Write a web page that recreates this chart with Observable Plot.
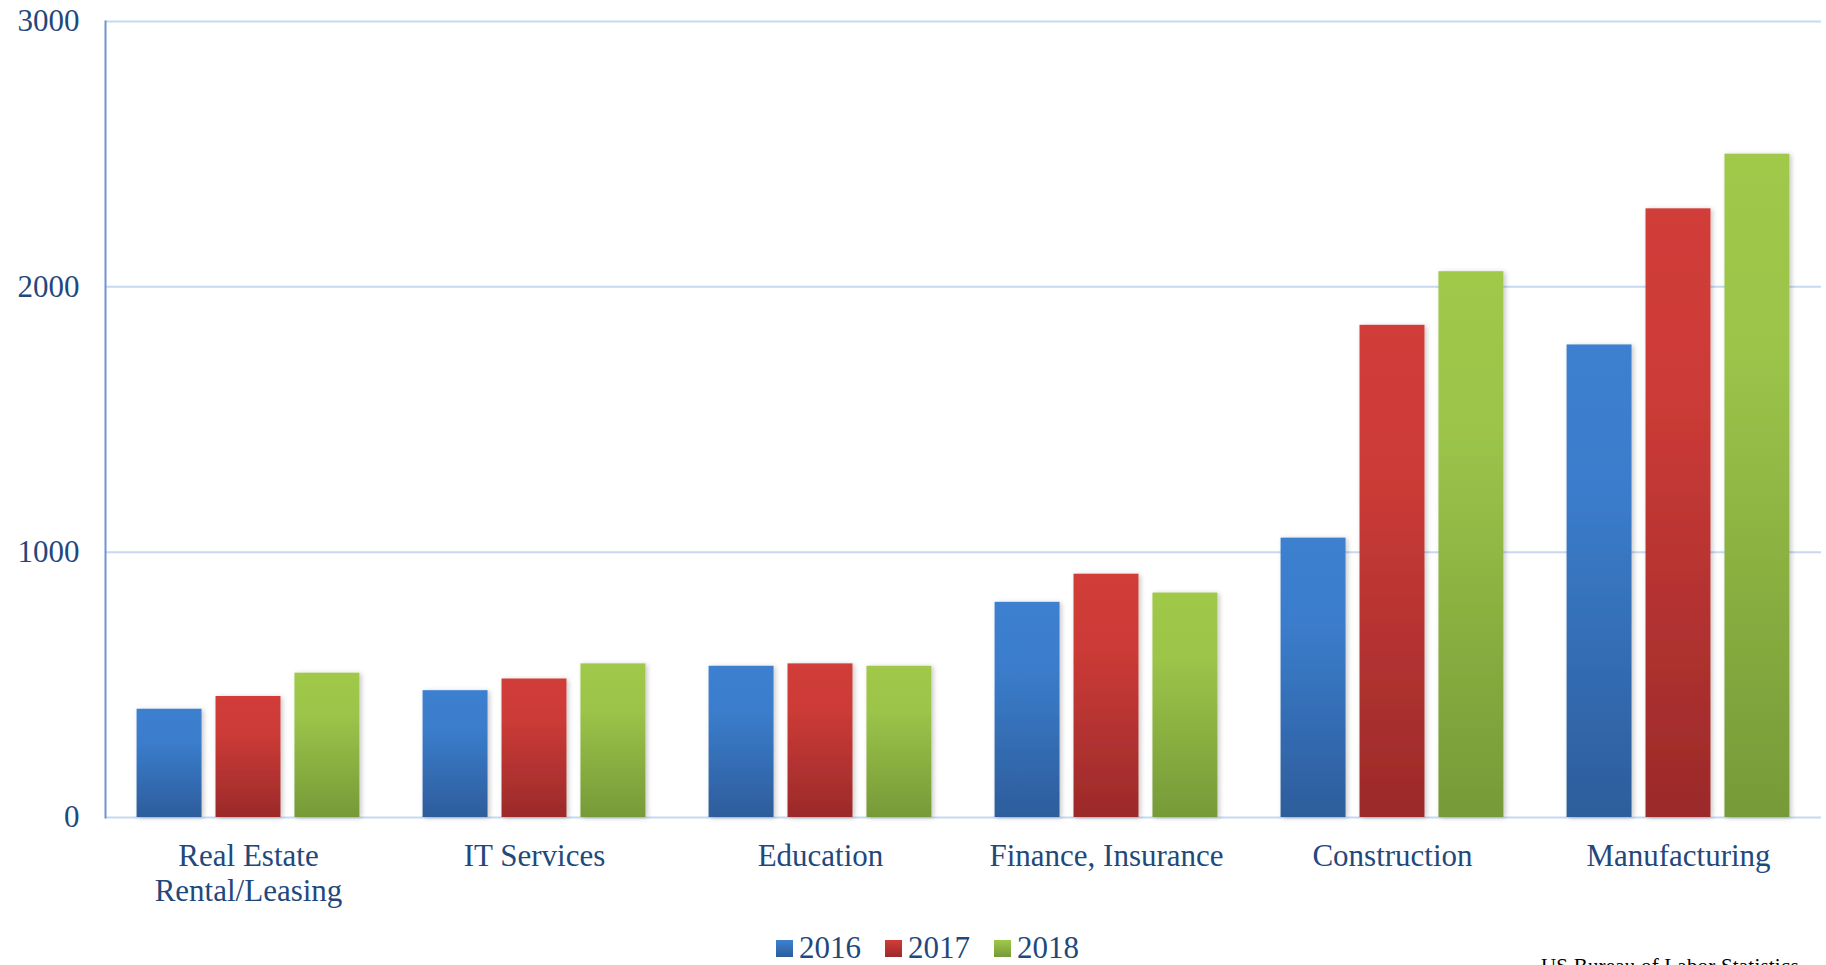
<!DOCTYPE html>
<html>
<head>
<meta charset="utf-8">
<script src="https://cdn.jsdelivr.net/npm/d3@7"></script>
<script src="https://cdn.jsdelivr.net/npm/@observablehq/plot@0.6"></script>
<style>
  html, body { margin: 0; padding: 0; overflow: hidden; background: #fff; }
  #wrap { position: relative; width: 1826px; height: 965px; }
  #legend { display: flex; justify-content: center; align-items: center; padding-left: 29px;
    font-family: "Liberation Serif", serif; font-size: 31px; line-height: 36px; color: #1f497d; }
  #legend .item { display: flex; align-items: center; margin: 0 12px; }
  #legend .sw { width: 17px; height: 17px; margin-right: 6px; }
  #source { position: absolute; left: 1541px; top: 954px; font-family: "Liberation Serif", serif;
    font-size: 21px; line-height: 24px; color: #000; white-space: nowrap; letter-spacing: 0.2px; }
</style>
</head>
<body>
<div id="wrap">
  <div id="chart"></div>
  <div id="legend"></div>
  <div id="source">US Bureau of Labor Statistics</div>
</div>
<script>
const categories = ["Real Estate\nRental/Leasing", "IT Services", "Education", "Finance, Insurance", "Construction", "Manufacturing"];
const years = ["2016", "2017", "2018"];
const values2016 = [408, 478, 570, 811, 1053, 1781];
const values2017 = [456, 522, 579, 917, 1855, 2294];
const values2018 = [544, 579, 570, 846, 2057, 2500];
const yTicks = [0, 1000, 2000, 3000];

const seriesValues = [values2016, values2017, values2018];
const data = [];
categories.forEach((c, i) => {
  years.forEach((y, j) => data.push({category: c, year: y, value: seriesValues[j][i]}));
});

const gradients = {
  "2016": ["#3c80d0", "#3b7dcc", "#2d5d9c"],
  "2017": ["#d13c38", "#cc3b37", "#9b2a2a"],
  "2018": ["#a0c84a", "#9bc449", "#769a38"]
};

const chart = Plot.plot({
  width: 1826,
  height: 930,
  marginTop: 21,
  marginBottom: 113,
  marginLeft: 103,
  marginRight: 4,
  style: {fontFamily: "'Liberation Serif', serif", fontSize: "31px", color: "#1f497d", background: "white"},
  fx: {domain: categories, padding: 0, label: null},
  x: {domain: years, paddingInner: 0.177, paddingOuter: 0.4, round: false, axis: null},
  y: {domain: [0, 3000], axis: null, label: null},
  color: {domain: years, range: years.map(y => `url(#grad-${y})`)},
  marks: [
    Plot.gridY(yTicks.filter(d => d > 0), {stroke: "#c6d9f1", strokeWidth: 2, strokeOpacity: 1}),
    Plot.ruleY([0], {stroke: "#c6d9f1", strokeWidth: 2}),
    Plot.barY(data, {fx: "category", x: "year", y: "value", fill: "year"}),
    Plot.frame({anchor: "left", facetAnchor: "left", stroke: "#7094cd", strokeWidth: 2}),
    Plot.axisY({ticks: yTicks, tickSize: 0, tickPadding: 26, tickFormat: d => String(d), fontSize: 31, fill: "#1f497d", label: null}),
    Plot.axisFx({anchor: "bottom", tickSize: 0, tickPadding: 24, fontSize: 31, lineHeight: 1.13, fill: "#1f497d", label: null})
  ]
});

const svg = d3.select(chart);
const defs = svg.insert("defs", ":first-child");
years.forEach(y => {
  const g = defs.append("linearGradient").attr("id", `grad-${y}`).attr("x1", 0).attr("y1", 0).attr("x2", 0).attr("y2", 1);
  const [a, b, c] = gradients[y];
  g.append("stop").attr("offset", "0").attr("stop-color", a);
  g.append("stop").attr("offset", "0.3").attr("stop-color", b);
  g.append("stop").attr("offset", "1").attr("stop-color", c);
});
const f = defs.append("filter").attr("id", "shadow").attr("x", "-20%").attr("y", "-5%").attr("width", "140%").attr("height", "110%");
f.append("feDropShadow").attr("dx", 2).attr("dy", 1).attr("stdDeviation", 2.5).attr("flood-color", "#000").attr("flood-opacity", 0.22);
svg.selectAll("g[aria-label='bar'] rect").attr("filter", "url(#shadow)");

document.getElementById("chart").appendChild(chart);

const legend = d3.select("#legend");
years.forEach(y => {
  const it = legend.append("div").attr("class", "item");
  const [a, , c] = gradients[y];
  it.append("div").attr("class", "sw").style("background", `linear-gradient(${a}, ${c})`);
  it.append("span").text(y);
});
</script>
</body>
</html>
